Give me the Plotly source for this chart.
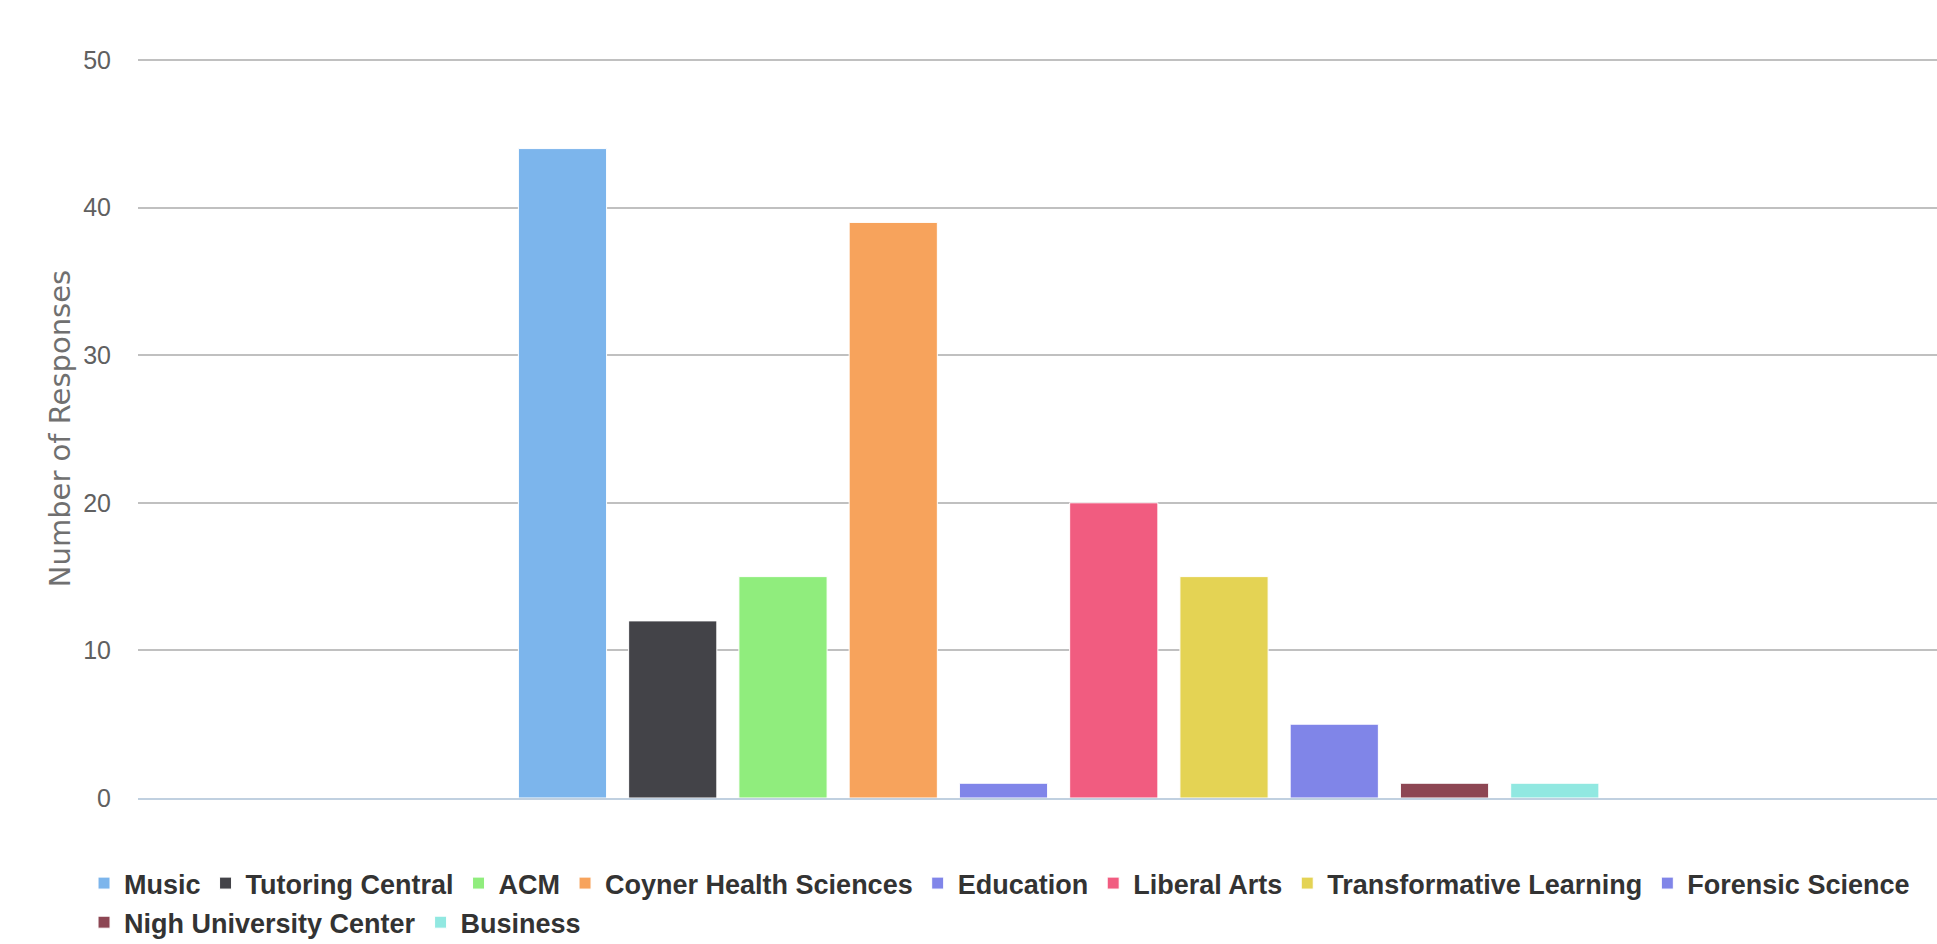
import plotly.graph_objects as go

series_names = ["Music", "Tutoring Central", "ACM", "Coyner Health Sciences", "Education",
                "Liberal Arts", "Transformative Learning", "Forensic Science",
                "Nigh University Center", "Business"]
series_values = [44, 12, 15, 39, 1, 20, 15, 5, 1, 1]
series_colors = ["#7cb5ec", "#434348", "#90ed7d", "#f7a35c", "#8085e9",
                 "#f15c80", "#e4d354", "#8085e8", "#8d4653", "#91e8e1"]
category = ["Responses"]
y_ticks = [0, 10, 20, 30, 40, 50]

FIRST_ROW = 8  # legend items shown on the first legend row

fig = go.Figure()
for i, (name, val, col) in enumerate(zip(series_names, series_values, series_colors)):
    fig.add_trace(go.Bar(
        x=category, y=[val], name=name,
        marker=dict(color=col, line=dict(color="white", width=1)),
        legend="legend" if i < FIRST_ROW else "legend2",
    ))

legend_font = dict(family="Liberation Sans, Arial, sans-serif", size=27,
                   color="#333333", weight="bold")

fig.update_layout(
    width=1937, height=944,
    margin=dict(l=138, r=0, t=59, b=146, autoexpand=False),
    paper_bgcolor="white", plot_bgcolor="white",
    barmode="group", bargap=0.4, bargroupgap=0.2,
    showlegend=True,
    legend=dict(
        orientation="h", x=-0.030, xanchor="left", y=-0.0826, yanchor="top",
        font=legend_font, traceorder="normal", bgcolor="rgba(0,0,0,0)",
    ),
    legend2=dict(
        orientation="h", x=-0.030, xanchor="left", y=-0.1355, yanchor="top",
        font=legend_font, traceorder="normal", bgcolor="rgba(0,0,0,0)",
    ),
    xaxis=dict(
        range=[-0.501, 0.478], showticklabels=False, showgrid=False,
        showline=True, linecolor="#C0D0E0", linewidth=2, zeroline=False,
        fixedrange=True,
    ),
    yaxis=dict(
        range=[0, 50.07], tickvals=y_ticks, showgrid=True, gridcolor="#C0C0C0", gridwidth=1.5,
        zeroline=False, showline=False,
        tickfont=dict(family="Liberation Sans, Arial, sans-serif", size=25, color="#606060"),
        ticklabelstandoff=26,
        title=dict(text="Number of Responses", standoff=4,
                   font=dict(family="DejaVu Sans", size=29, color="#707070")),
    ),
)

fig.write_html("out.html")
